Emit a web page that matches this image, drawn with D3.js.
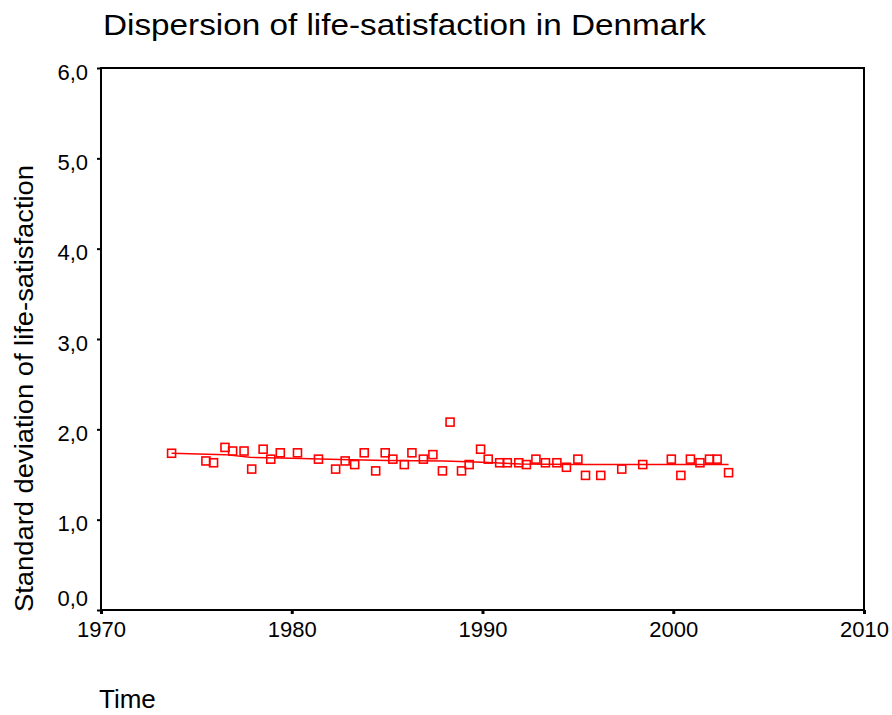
<!DOCTYPE html>
<html>
<head>
<meta charset="utf-8">
<script src="https://cdn.jsdelivr.net/npm/d3@7"></script>
<style>
  body { margin: 0; background: #fff; }
  svg text { font-family: "Liberation Sans", Arial, sans-serif; fill: #000; }
</style>
</head>
<body>
<div id="chart"></div>
<script>
// survey years (fractional) and SD of life-satisfaction
const years = [1973.7, 1975.5, 1975.9, 1976.5, 1976.9, 1977.5, 1977.9, 1978.5, 1978.9, 1979.4,
    1980.3, 1981.4, 1982.3, 1982.8, 1983.3, 1983.8, 1984.4, 1984.9, 1985.3, 1985.9,
    1986.3, 1986.9, 1987.4, 1987.9, 1988.3, 1988.9, 1989.3, 1989.9, 1990.3, 1990.9,
    1991.3, 1991.9, 1992.3, 1992.8, 1993.3, 1993.9, 1994.4, 1995.0, 1995.4, 1996.2,
    1997.3, 1998.4, 1999.9, 2000.4, 2000.9, 2001.4, 2001.9, 2002.3, 2002.9];
const sdValues = [1.735, 1.65, 1.63, 1.80, 1.76, 1.76, 1.56, 1.78, 1.67, 1.74,
    1.74, 1.67, 1.56, 1.65, 1.61, 1.74, 1.54, 1.74, 1.67, 1.61,
    1.74, 1.67, 1.72, 1.54, 2.08, 1.54, 1.61, 1.78, 1.67, 1.63,
    1.63, 1.63, 1.61, 1.67, 1.63, 1.63, 1.58, 1.67, 1.49, 1.49,
    1.56, 1.61, 1.67, 1.49, 1.67, 1.63, 1.67, 1.67, 1.52];

// smoothed fit line
const fitYears = [1973.7, 1976.5, 1977.8, 1980, 1982.5, 1985, 1988, 1990, 1992, 1995, 2000, 2002.9];
const fitValues = [1.735, 1.72, 1.69, 1.68, 1.665, 1.655, 1.65, 1.635, 1.615, 1.61, 1.61, 1.61];

const xTicks = [1970, 1980, 1990, 2000, 2010];
const yTicks = [0, 1, 2, 3, 4, 5, 6];

const W = 892, H = 715;
const margin = {top: 68, right: 28, bottom: 105, left: 101},
    width = W - margin.left - margin.right,
    height = H - margin.top - margin.bottom;

const svg = d3.select("#chart").append("svg")
    .attr("width", W)
    .attr("height", H);

const x = d3.scaleLinear().domain([1970, 2010]).range([0, width]);
const y = d3.scaleLinear().domain([0, 6]).range([height, 0]);

const g = svg.append("g")
    .attr("transform", "translate(" + margin.left + "," + margin.top + ")");

// frame
g.append("rect")
    .attr("width", width)
    .attr("height", height)
    .attr("fill", "none")
    .attr("stroke", "#000")
    .attr("stroke-width", 2);

const fmt = d => d.toFixed(1).replace(".", ",");

const yAxis = g.append("g")
    .call(d3.axisLeft(y).tickValues(yTicks).tickFormat(fmt).tickSize(4).tickPadding(9));
yAxis.select(".domain").remove();
yAxis.selectAll(".tick line").attr("stroke-width", 2);
yAxis.selectAll(".tick text")
    .style("font-size", "22px")
    .attr("dy", d => d === 0 ? "-0.2em" : "0.5em");

const xAxis = g.append("g")
    .attr("transform", "translate(0," + height + ")")
    .call(d3.axisBottom(x).tickValues(xTicks).tickFormat(d3.format("d")).tickSize(4).tickPadding(7));
xAxis.select(".domain").remove();
xAxis.selectAll(".tick line").attr("stroke-width", 3);
xAxis.selectAll(".tick text").style("font-size", "22px");

// fit line
const line = d3.line()
    .x((d, i) => x(fitYears[i]))
    .y(d => y(d));

g.append("path")
    .datum(fitValues)
    .attr("d", line)
    .attr("fill", "none")
    .attr("stroke", "#ff0000")
    .attr("stroke-width", 1.5);

// markers
const s = 8;
g.selectAll("rect.pt")
    .data(sdValues)
    .enter().append("rect")
    .attr("class", "pt")
    .attr("x", (d, i) => x(years[i]) - s / 2)
    .attr("y", d => y(d) - s / 2)
    .attr("width", s)
    .attr("height", s)
    .attr("fill", "none")
    .attr("stroke", "#ff0000")
    .attr("stroke-width", 1.6);

// title and axis titles
svg.append("text")
    .attr("x", 103)
    .attr("y", 35)
    .attr("textLength", 603)
    .attr("lengthAdjust", "spacingAndGlyphs")
    .style("font-size", "30px")
    .text("Dispersion of life-satisfaction in Denmark");

svg.append("text")
    .attr("transform", "translate(33,612) rotate(-90)")
    .attr("textLength", 447)
    .attr("lengthAdjust", "spacingAndGlyphs")
    .style("font-size", "26px")
    .text("Standard deviation of life-satisfaction");

svg.append("text")
    .attr("x", 99)
    .attr("y", 708)
    .style("font-size", "26px")
    .text("Time");
</script>
</body>
</html>
